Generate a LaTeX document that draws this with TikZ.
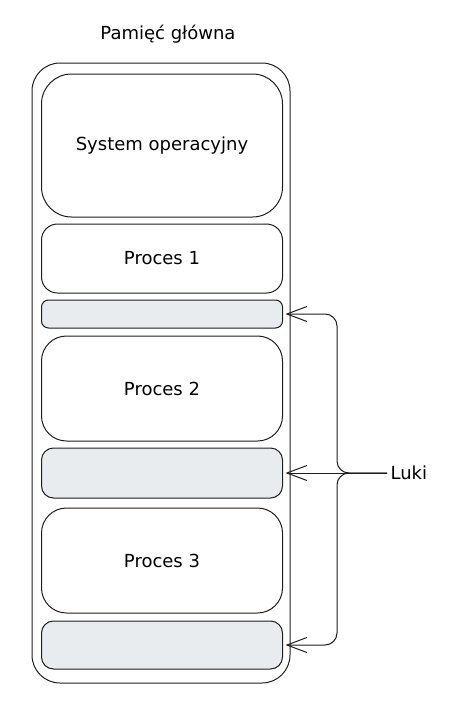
\documentclass[tikz,border=0pt]{standalone}
\usepackage{fontspec}
\setmainfont{DejaVu Sans}
\usetikzlibrary{arrows.meta,positioning}
\definecolor{ink}{HTML}{1E1E1E}
\definecolor{holegray}{HTML}{E9ECEF}

\begin{document}
\begin{tikzpicture}[
  x=1pt, y=-1pt,
  font=\fontsize{18}{21}\selectfont,
  region/.style={draw=ink, line width=1pt, fill=white, align=center,
    minimum width=241pt, inner sep=0pt, outer sep=0pt},
  hole/.style={region, fill=holegray},
  arrow/.style={-{Straight Barb[length=20pt,width=15pt]}, line width=1pt,
    draw=ink, rounded corners=12pt, shorten >=3pt}
]
\useasboundingbox (0,0) rectangle (449,712);
\node[draw=ink, line width=1pt, rounded corners=28pt, minimum width=258pt,
  minimum height=620pt] (memory) at (161,373) {};
\node (title) at (168,34) {Pamięć główna};

\node[region, rounded corners=30pt, minimum height=143pt] (os) at (162,145.5) {System operacyjny};
\node[region, rounded corners=16pt, minimum height=69pt, below=7pt of os] (p1) {Proces 1};
\node[hole, rounded corners=7pt, minimum height=28pt, below=7pt of p1] (g1) {};
\node[region, rounded corners=25pt, minimum height=105pt, below=8pt of g1] (p2) {Proces 2};
\node[hole, rounded corners=12pt, minimum height=50pt, below=7pt of p2] (g2) {};
\node[region, rounded corners=25pt, minimum height=105pt, below=10pt of g2] (p3) {Proces 3};
\node[hole, rounded corners=12pt, minimum height=48pt, below=8pt of p3] (g3) {};

\node[anchor=west] (luki) at (387,473) {Luki};
\coordinate (spine) at (337,473);
\draw[arrow] (luki.west) -- (g2.east);
\foreach \g in {g1,g3}
  \draw[arrow] (luki.west) -| (spine |- \g.east) -- (\g.east);
\end{tikzpicture}
\end{document}
